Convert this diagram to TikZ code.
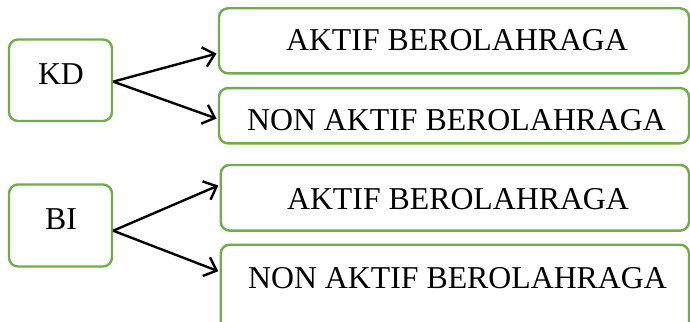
\documentclass[tikz,border=0pt]{standalone}
\usepackage{fontspec}
\setmainfont{Liberation Serif}
\usetikzlibrary{arrows.meta}
\definecolor{boxgreen}{HTML}{70AD47}
\begin{document}
\begin{tikzpicture}[x=1pt,y=-1pt,
  box/.style={draw=boxgreen, line width=2.4pt, rounded corners=9pt, rectangle, inner sep=0pt, fill=white},
  lbl/.style={anchor=base, inner sep=0pt, font=\fontsize{31.8}{36}\selectfont},
  conn/.style={line width=2.4pt, shorten >=1.3pt, -{Straight Barb[length=11pt,width=20pt,line width=2.4pt]}}]
\clip (0,0) rectangle (690,321);
% source boxes
\node[box, minimum width=103pt, minimum height=81.5pt] (kd) at (60.5,80.25) {};
\node[box, minimum width=103pt, minimum height=82pt] (bi) at (60.5,225.5) {};
% target boxes
\node[box, minimum width=470pt, minimum height=65pt] (b1) at (454,40.8) {};
\node[box, minimum width=470pt, minimum height=55.3pt] (b2) at (454,115.7) {};
\node[box, minimum width=468.3pt, minimum height=65.7pt] (b3) at (454.85,197.8) {};
\node[box, minimum width=468.3pt, minimum height=90pt] (b4) at (454.85,289.7) {};
% labels
\node[lbl] (tkd) at (61,84) {KD};
\node[lbl] (tbi) at (61,229.3) {BI};
\node[lbl] (t1) at (457,50.7) {AKTIF BEROLAHRAGA};
\node[lbl] (t2) at (456.5,130) {NON AKTIF BEROLAHRAGA};
\node[lbl] (t3) at (458,209.3) {AKTIF BEROLAHRAGA};
\node[lbl] (t4) at (457.5,288.3) {NON AKTIF BEROLAHRAGA};
% connectors
\draw[conn] ([yshift=-1.4pt]kd.east) -- ([yshift=-12.5pt]b1.west);
\draw[conn] ([yshift=-1.4pt]kd.east) -- ([yshift=-3.3pt]b2.west);
\draw[conn] ([yshift=-5.2pt]bi.east) -- ([yshift=12.8pt]b3.west);
\draw[conn] ([yshift=-5.2pt]bi.east) -- ([yshift=18pt]b4.west);
\end{tikzpicture}
\end{document}
